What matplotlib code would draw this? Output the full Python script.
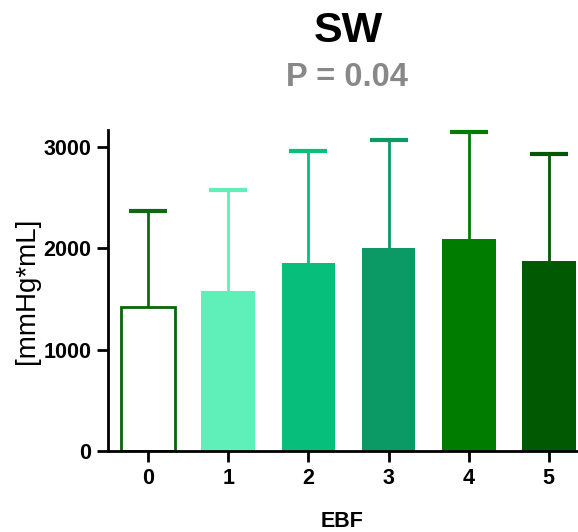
import numpy as np
import matplotlib.pyplot as plt

plt.rcParams['font.family'] = ['Liberation Sans', 'DejaVu Sans']

# --- data ---
categories = ['0', '1', '2', '3', '4', '5']
means = [1425, 1582, 1852, 2000, 2092, 1878]
sd_upper = [943, 994, 1109, 1069, 1056, 1050]
face_colors = ['white', '#5EF0B8', '#08BE7B', '#0B9965', '#007C00', '#015A01']
err_colors = ['#0E6A0E', '#5EF0B8', '#08BE7B', '#0B9965', '#007C00', '#015A01']

fig = plt.figure(figsize=(5.78, 5.32), dpi=100)
ax = fig.add_axes([0.187, 0.152, 0.811, 0.604])

x = np.arange(len(categories))
tops = np.array(means) + np.array(sd_upper)
for i in range(len(categories)):
    ec = '#0A640A' if i == 0 else face_colors[i]
    lw = 2 if i == 0 else 0
    ax.bar(x[i], means[i], width=0.67, color=face_colors[i], edgecolor=ec,
           linewidth=lw, zorder=2)
    # upper error bar only (line + cap)
    ax.vlines(x[i], means[i], tops[i], colors=err_colors[i], linewidth=2, zorder=1)
    ax.plot(x[i], tops[i], marker='_', markersize=27, markeredgewidth=3,
            color=err_colors[i], zorder=1, clip_on=False)

ax.set_xlim(-0.5, 5.35)
ax.set_ylim(0, 3170)
ax.set_yticks([0, 1000, 2000, 3000])
ax.set_xticks(x)
ax.set_xticklabels(categories)

for s in ['top', 'right']:
    ax.spines[s].set_visible(False)
for s in ['left', 'bottom']:
    ax.spines[s].set_linewidth(2)
ax.tick_params(axis='both', width=2, length=8, labelsize=15.5, pad=4)
for lab in ax.get_xticklabels() + ax.get_yticklabels():
    lab.set_fontweight('bold')

ax.set_xlabel('EBF', fontsize=15.5, fontweight='bold')
ax.xaxis.set_label_coords(0.5, -0.185)
ax.set_ylabel('[mmHg*mL]', fontsize=20)
ax.yaxis.set_label_coords(-0.145, 0.5)

fig.text(0.602, 0.942, 'SW', fontsize=31, fontweight='bold', ha='center', va='center')
fig.text(0.600, 0.855, 'P = 0.04', fontsize=23.5, fontweight='bold', color='#888888',
         ha='center', va='center')

fig.savefig('out.png', dpi=100)
